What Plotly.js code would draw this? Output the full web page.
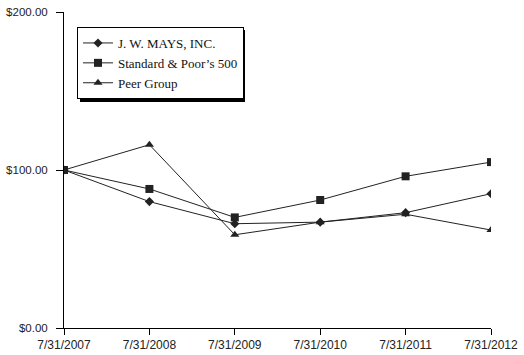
<!DOCTYPE html>
<html>
<head>
<meta charset="utf-8">
<script src="https://cdn.plot.ly/plotly-3.0.1.min.js"></script>
<style>html,body{margin:0;padding:0;background:#fff;}#chart{width:524px;height:355px;}</style>
</head>
<body>
<div id="chart"></div>
<script>
const dates = ["7/31/2007", "7/31/2008", "7/31/2009", "7/31/2010", "7/31/2011", "7/31/2012"];
const jwMays = [100, 80, 66, 67, 73, 85];
const sp500 = [100, 88, 70, 81, 96, 105];
const peerGroup = [100, 116, 59, 67, 72, 62];
const yTickVals = [0, 100, 200];
const yTickText = ["$0.00", "$100.00", "$200.00"];

const lineColor = "#222";
const traces = [
  {name: "J. W. MAYS, INC.", y: jwMays, symbol: "diamond", size: 7},
  {name: "Standard & Poor\u2019s 500", y: sp500, symbol: "square", size: 8},
  {name: "Peer Group", y: peerGroup, symbol: "triangle-up", size: 8}
].map(s => ({
  type: "scatter", mode: "lines+markers", name: s.name,
  x: dates, y: s.y,
  line: {color: lineColor, width: 1},
  marker: {symbol: s.symbol, size: s.size, color: lineColor}
}));

const L = 64, R = 33, T = 12, B = 27, W = 524, H = 355;
const pw = W - L - R, ph = H - T - B;
function px(x) { return (x - L) / pw; }
function py(y) { return (H - B - y) / ph; }

const layout = {
  width: W, height: H,
  margin: {l: L, r: R, t: T, b: B},
  paper_bgcolor: "#fff", plot_bgcolor: "#fff",
  showlegend: true,
  font: {family: "Liberation Sans, Arial, sans-serif", size: 11.5, color: "#222"},
  xaxis: {
    type: "category", range: [0, 5],
    showline: true, linecolor: "#000", linewidth: 1,
    ticks: "outside", ticklen: 6, tickcolor: "#000",
    showgrid: false, zeroline: false,
    tickfont: {size: 12}
  },
  yaxis: {
    range: [0, 200], tickvals: yTickVals, ticktext: yTickText,
    showline: true, linecolor: "#000", linewidth: 1,
    ticks: "outside", ticklen: 7, tickcolor: "#000",
    ticklabelstandoff: 6,
    showgrid: false, zeroline: false
  },
  legend: {
    x: px(77), y: py(27), xanchor: "left", yanchor: "top",
    bgcolor: "#fff", bordercolor: "#000", borderwidth: 1,
    font: {family: "Liberation Serif, Times New Roman, serif", size: 13, color: "#111"},
    tracegroupgap: 0, itemwidth: 30
  },
  shapes: [{
    type: "rect", xref: "paper", yref: "paper",
    x0: px(80), x1: px(245), y0: py(102), y1: py(30),
    fillcolor: "#000", line: {width: 0}, layer: "above"
  }]
};

Plotly.newPlot("chart", traces, layout, {displayModeBar: false, staticPlot: true});
</script>
</body>
</html>
